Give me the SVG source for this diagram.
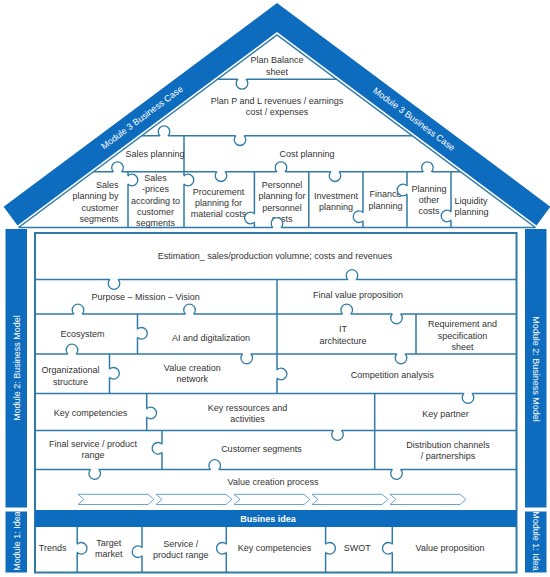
<svg xmlns="http://www.w3.org/2000/svg" width="550" height="577" viewBox="0 0 550 577">
<style>
.t{font-family:"Liberation Sans",Arial,sans-serif;font-size:9px;fill:#333;text-anchor:middle}
.w{font-family:"Liberation Sans",Arial,sans-serif;font-size:9px;fill:#fff;text-anchor:middle}
.ln{stroke:#2f7aa6;stroke-width:1.5;fill:none}
.fr{stroke:#2f7aa6;stroke-width:2;fill:none}
.band{fill:#0e6cbf}
.chev{fill:#fff;stroke:#6aa3d0;stroke-width:1}
</style>
<defs>
<g id="kn">
<line x1="-4.4" y1="0" x2="4.4" y2="0" stroke="#fff" stroke-width="2.6"/>
<path d="M-4.2,0.3 V0 A5.8,5.8 0 1 1 4.2,0 V0.3" fill="#fff" stroke="#2f7aa6" stroke-width="1.3"/>
</g>
</defs>
<rect width="550" height="577" fill="#fff"/>

<!-- roof band -->
<g id="roof">
<polygon class="band" points="3.6,206.7 277,3 550.4,206.7 536.5,225.4 277,32 17.5,225.4"/>
<text class="w" transform="translate(142,117.5) rotate(-36.7)" dy="3">Module 3 Business Case</text>
<text class="w" transform="translate(414,119) rotate(36.7)" dy="3">Module 3 Business Case</text>
</g>

<!-- pillars -->
<g id="module2-left"><rect class="band" x="5.5" y="229" width="21.5" height="278.5"/>
<text class="w" transform="translate(16.5,368) rotate(-90)" dy="3">Module 2: Business Model</text></g>
<g id="module2-right"><rect class="band" x="525" y="229" width="21.5" height="278.5"/>
<text class="w" transform="translate(535.5,369) rotate(90)" dy="3">Module 2: Business Model</text></g>
<g id="module1-left"><rect class="band" x="5.5" y="511.5" width="21.5" height="61"/>
<text class="w" transform="translate(16.5,541) rotate(-90)" dy="3">Module 1: Idea</text></g>
<g id="module1-right"><rect class="band" x="525" y="511.5" width="21.5" height="61"/>
<text class="w" transform="translate(535.5,541) rotate(90)" dy="3">Module 1: Idea</text></g>

<!-- puzzle lines -->
<g id="connectors">
<polyline class="ln" points="18.6,227.5 277,35 535.4,227.5"/>
<line class="ln" x1="18.6" y1="227.5" x2="535.4" y2="227.5"/>
<line class="ln" x1="217.5" y1="79.3" x2="336.5" y2="79.3"/>
<line class="ln" x1="141.8" y1="135.7" x2="412.2" y2="135.7"/>
<line class="ln" x1="184" y1="135.7" x2="184" y2="227.5"/>
<line class="ln" x1="93.5" y1="171.7" x2="460.5" y2="171.7"/>
<line class="ln" x1="128" y1="171.7" x2="128" y2="227.5"/>
<line class="ln" x1="254.4" y1="171.7" x2="254.4" y2="227.5"/>
<line class="ln" x1="308.8" y1="171.7" x2="308.8" y2="227.5"/>
<line class="ln" x1="363" y1="171.7" x2="363" y2="227.5"/>
<line class="ln" x1="407" y1="171.7" x2="407" y2="227.5"/>
<line class="ln" x1="451" y1="171.7" x2="451" y2="227.5"/>

<rect class="fr" x="35" y="233" width="481.5" height="339.5"/>
<line class="ln" x1="35" y1="279.5" x2="516.5" y2="279.5"/>
<line class="ln" x1="35" y1="314" x2="516.5" y2="314"/>
<line class="ln" x1="35" y1="354" x2="516.5" y2="354"/>
<line class="ln" x1="35" y1="393.5" x2="516.5" y2="393.5"/>
<line class="ln" x1="35" y1="430.5" x2="516.5" y2="430.5"/>
<line class="ln" x1="35" y1="469.5" x2="516.5" y2="469.5"/>
<line class="ln" x1="277" y1="279.5" x2="277" y2="393.5"/>
<line class="ln" x1="137.5" y1="314" x2="137.5" y2="354"/>
<line class="ln" x1="416" y1="314" x2="416" y2="354"/>
<line class="ln" x1="109.5" y1="354" x2="109.5" y2="393.5"/>
<line class="ln" x1="146.7" y1="393.5" x2="146.7" y2="430.5"/>
<line class="ln" x1="374.7" y1="393.5" x2="374.7" y2="469.5"/>
<line class="ln" x1="162" y1="430.5" x2="162" y2="469.5"/>
<line class="ln" x1="77.2" y1="527" x2="77.2" y2="572.5"/>
<line class="ln" x1="142" y1="527" x2="142" y2="572.5"/>
<line class="ln" x1="226.3" y1="527" x2="226.3" y2="572.5"/>
<line class="ln" x1="325.6" y1="527" x2="325.6" y2="572.5"/>
<line class="ln" x1="392.3" y1="527" x2="392.3" y2="572.5"/>

<!-- chevrons -->
<polygon class="chev" points="78,494.3 148,494.3 154,499.4 148,504.5 78,504.5 84,499.4"/>
<polygon class="chev" points="156,494.3 226,494.3 232,499.4 226,504.5 156,504.5 162,499.4"/>
<polygon class="chev" points="234,494.3 304,494.3 310,499.4 304,504.5 234,504.5 240,499.4"/>
<polygon class="chev" points="312,494.3 382,494.3 388,499.4 382,504.5 312,504.5 318,499.4"/>
<polygon class="chev" points="390,494.3 460,494.3 466,499.4 460,504.5 390,504.5 396,499.4"/>
</g>

<!-- node texts -->
<g id="plan-balance"><text class="t" x="277" y="63"><tspan x="277">Plan Balance</tspan><tspan x="277" dy="11.5">sheet</tspan></text></g>
<g id="plan-pl"><text class="t" x="277" y="103.5"><tspan x="277">Plan P and L revenues / earnings</tspan><tspan x="277" dy="11.3">cost / expenses</tspan></text></g>
<g id="sales-planning"><text class="t" x="155" y="157">Sales planning</text></g>
<g id="cost-planning"><text class="t" x="307" y="157">Cost planning</text></g>
<g id="sales-by-segment"><text class="t" style="text-anchor:end" y="188"><tspan x="118.5">Sales</tspan><tspan x="118.5" dy="11.4">planning by</tspan><tspan x="118.5" dy="11.4">customer</tspan><tspan x="118.5" dy="11.2">segments</tspan></text></g>
<g id="sales-prices"><text class="t" y="181.3"><tspan x="155.5">Sales</tspan><tspan x="155.5" dy="11.1">-prices</tspan><tspan x="155.5" dy="11.1">according to</tspan><tspan x="155.5" dy="11.1">customer</tspan><tspan x="155.5" dy="11.1">segments</tspan></text></g>
<g id="procurement"><text class="t" y="194.7"><tspan x="218.5">Procurement</tspan><tspan x="218.5" dy="11">planning for</tspan><tspan x="218.5" dy="11">material costs</tspan></text></g>
<g id="personnel"><text class="t" y="188"><tspan x="282">Personnel</tspan><tspan x="282" dy="11.4">planning for</tspan><tspan x="282" dy="11.4">personnel</tspan><tspan x="282" dy="11.2">costs</tspan></text></g>
<g id="investment"><text class="t" y="198.7"><tspan x="336">Investment</tspan><tspan x="336" dy="11">planning</tspan></text></g>
<g id="finance"><text class="t" y="197.3"><tspan x="385.5">Finance</tspan><tspan x="385.5" dy="11.4">planning</tspan></text></g>
<g id="planning-other"><text class="t" y="191.7"><tspan x="429">Planning</tspan><tspan x="429" dy="11">other</tspan><tspan x="429" dy="11">costs</tspan></text></g>
<g id="liquidity"><text class="t" style="text-anchor:start" y="204"><tspan x="454.5">Liquidity</tspan><tspan x="454.5" dy="11">planning</tspan></text></g>

<g id="estimation"><text class="t" x="275" y="259">Estimation_ sales/production volumne; costs and revenues</text></g>
<g id="purpose"><text class="t" x="145.6" y="299.5">Purpose – Mission – Vision</text></g>
<g id="final-value"><text class="t" x="358" y="297.7">Final value proposition</text></g>
<g id="ecosystem"><text class="t" x="82.5" y="337.3">Ecosystem</text></g>
<g id="ai"><text class="t" x="211" y="341.3">AI and digitalization</text></g>
<g id="it"><text class="t" y="332"><tspan x="343">IT</tspan><tspan x="343" dy="11.7">architecture</tspan></text></g>
<g id="requirement"><text class="t" y="327.3"><tspan x="462.5">Requirement and</tspan><tspan x="462.5" dy="11.3">specification</tspan><tspan x="462.5" dy="11">sheet</tspan></text></g>
<g id="org"><text class="t" y="373"><tspan x="70.5">Organizational</tspan><tspan x="70.5" dy="11.7">structure</tspan></text></g>
<g id="vcn"><text class="t" y="371"><tspan x="192.3">Value creation</tspan><tspan x="192.3" dy="11.3">network</tspan></text></g>
<g id="competition"><text class="t" x="392.3" y="378">Competition analysis</text></g>
<g id="key-comp"><text class="t" x="90.5" y="416">Key competencies</text></g>
<g id="key-res"><text class="t" y="410.7"><tspan x="247.4">Key ressources and</tspan><tspan x="247.4" dy="11.3">activities</tspan></text></g>
<g id="key-partner"><text class="t" x="445.6" y="417">Key partner</text></g>
<g id="final-service"><text class="t" y="446.7"><tspan x="93">Final service / product</tspan><tspan x="93" dy="11.3">range</tspan></text></g>
<g id="customer-seg"><text class="t" x="261.4" y="452">Customer segments</text></g>
<g id="distribution"><text class="t" y="447.7"><tspan x="448">Distribution channels</tspan><tspan x="448" dy="11.3">/ partnerships</tspan></text></g>
<g id="vcp"><text class="t" x="273" y="484.7">Value creation process</text></g>

<g id="busines-idea"><rect class="band" x="35" y="510" width="481.5" height="17"/>
<text class="w" x="268" y="521.5" style="font-weight:bold">Busines idea</text></g>
<g id="trends"><text class="t" x="52.6" y="551.3">Trends</text></g>
<g id="target"><text class="t" y="545.7"><tspan x="108.8">Target</tspan><tspan x="108.8" dy="11.3">market</tspan></text></g>
<g id="service"><text class="t" y="547"><tspan x="180.7">Service /</tspan><tspan x="180.7" dy="11">product range</tspan></text></g>
<g id="key-comp-idea"><text class="t" x="274.4" y="551.3">Key competencies</text></g>
<g id="swot"><text class="t" x="357.2" y="551.3">SWOT</text></g>
<g id="value-prop"><text class="t" x="450" y="551.3">Value proposition</text></g>

<!-- puzzle knobs -->
<g id="knobs">
<use href="#kn" transform="translate(242,79.3) rotate(180)"/>
<use href="#kn" transform="translate(164,135.7)"/>
<use href="#kn" transform="translate(240,135.7) rotate(180)"/>
<use href="#kn" transform="translate(117.5,171.7)"/>
<use href="#kn" transform="translate(221,171.7) rotate(180)"/>
<use href="#kn" transform="translate(281,171.7)"/>
<use href="#kn" transform="translate(335,171.7) rotate(180)"/>
<use href="#kn" transform="translate(427.4,171.7)"/>
<use href="#kn" transform="translate(128,180) rotate(90)"/>
<use href="#kn" transform="translate(184,180) rotate(90)"/>
<use href="#kn" transform="translate(254.4,218) rotate(-90)"/>
<use href="#kn" transform="translate(363,216.7) rotate(-90)"/>
<use href="#kn" transform="translate(407,190) rotate(-90)"/>
<use href="#kn" transform="translate(451,216) rotate(-90)"/>
<use href="#kn" transform="translate(277,227.5)"/>
<use href="#kn" transform="translate(114,279.5) rotate(180)"/>
<use href="#kn" transform="translate(352,279.5)"/>
<use href="#kn" transform="translate(78,314)"/>
<use href="#kn" transform="translate(189.5,314)"/>
<use href="#kn" transform="translate(346.7,314)"/>
<use href="#kn" transform="translate(396.5,314) rotate(180)"/>
<use href="#kn" transform="translate(72,354)"/>
<use href="#kn" transform="translate(246.7,354) rotate(180)"/>
<use href="#kn" transform="translate(401,354) rotate(180)"/>
<use href="#kn" transform="translate(468,393.5) rotate(180)"/>
<use href="#kn" transform="translate(337.5,430.5) rotate(180)"/>
<use href="#kn" transform="translate(94.7,469.5) rotate(180)"/>
<use href="#kn" transform="translate(214.7,469.5)"/>
<use href="#kn" transform="translate(396.5,469.5) rotate(180)"/>
<use href="#kn" transform="translate(137.5,333.3) rotate(90)"/>
<use href="#kn" transform="translate(109.5,373.3) rotate(90)"/>
<use href="#kn" transform="translate(277,374) rotate(90)"/>
<use href="#kn" transform="translate(146.7,413) rotate(90)"/>
<use href="#kn" transform="translate(162,448.3) rotate(-90)"/>
<use href="#kn" transform="translate(77.2,548.3) rotate(90)"/>
<use href="#kn" transform="translate(142,551.7) rotate(-90)"/>
<use href="#kn" transform="translate(226.3,548.3) rotate(-90)"/>
<use href="#kn" transform="translate(325.6,548.3) rotate(90)"/>
<use href="#kn" transform="translate(392.3,548.3) rotate(-90)"/>
</g>
</svg>
